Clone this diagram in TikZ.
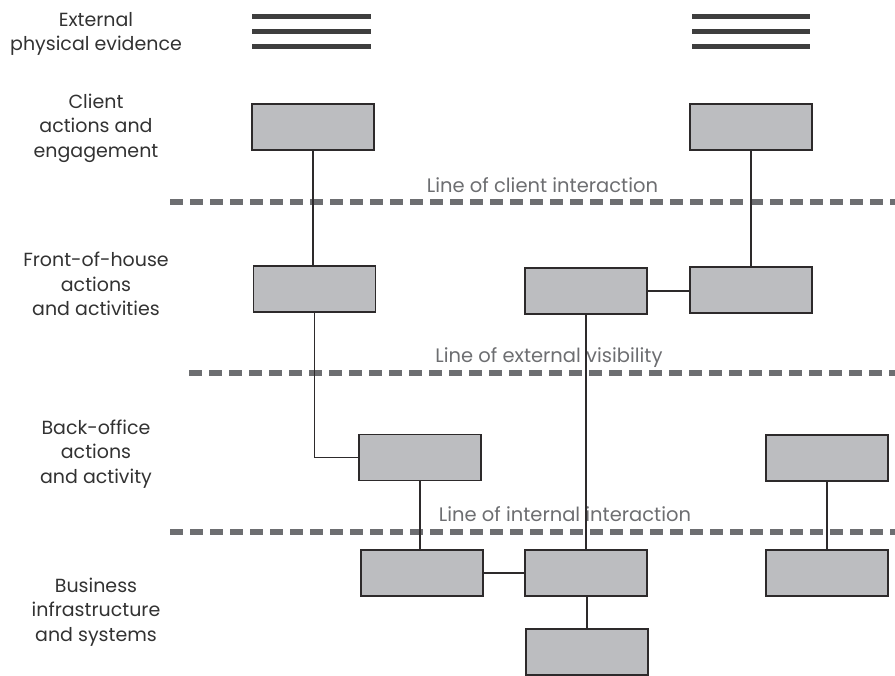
\documentclass[tikz,border=0pt]{standalone}
\usepackage{fontspec}
\setmainfont{Poppins}
\definecolor{boxfill}{RGB}{188,189,192}
\definecolor{boxline}{RGB}{45,42,43}
\definecolor{dashcol}{RGB}{109,110,113}
\definecolor{evcol}{RGB}{62,62,62}
\definecolor{labcol}{RGB}{50,50,50}
\begin{document}
\begin{tikzpicture}[x=1pt,y=-1pt,
  stagebox/.style={draw=boxline,fill=boxfill,line width=1.5pt,minimum width=122pt,minimum height=46pt,inner sep=0pt},
  conn/.style={draw=boxline,line width=1.3pt},
  evline/.style={draw=evcol,line width=5pt},
  sepline/.style={draw=dashcol,line width=6pt,dash pattern=on 13pt off 7pt},
  rowlabel/.style={align=center,text=labcol,font=\fontsize{19}{24.5}\selectfont,inner sep=0pt},
  linelabel/.style={text=dashcol,font=\fontsize{19.5}{20}\selectfont,inner sep=0pt,anchor=base}]
\useasboundingbox (0,0) rectangle (895,676);
% row labels
\node[rowlabel] (lev) at (96,34) {External\\physical evidence};
\node[rowlabel] (lcl) at (96,128) {Client\\actions and\\engagement};
\node[rowlabel] (lfr) at (96,284) {Front-of-house\\actions\\and activities};
\node[rowlabel] (lbk) at (96,454) {Back-office\\actions\\and activity};
\node[rowlabel] (lbu) at (96,612) {Business\\infrastructure\\and systems};
% evidence lines
\foreach \yy in {16.5,31.5,46.5} {
  \draw[evline] (252,\yy) -- (371,\yy);
  \draw[evline] (692,\yy) -- (810,\yy);
}
% separator lines
\draw[sepline] (170,202) -- (895,202);
\draw[sepline] (189,373) -- (895,373);
\draw[sepline] (170,532) -- (895,532);
\node[linelabel] (t1) at (542.5,193) {Line of client interaction};
\node[linelabel] (t2) at (549,363) {Line of external visibility};
\node[linelabel] (t3) at (565,521) {Line of internal interaction};
% boxes
\node[stagebox] (c1) at (313,127) {};
\node[stagebox] (c2) at (751,127) {};
\node[stagebox] (f1) at (314.5,289) {};
\node[stagebox] (f2) at (586,291) {};
\node[stagebox] (f3) at (751,290) {};
\node[stagebox] (b1) at (420,457.5) {};
\node[stagebox] (b2) at (827,458) {};
\node[stagebox] (i1) at (422,573) {};
\node[stagebox] (i2) at (586,573) {};
\node[stagebox] (i3) at (587,652) {};
\node[stagebox] (i4) at (827,573) {};
% connectors
\draw[conn] (c1.south) -- (c1.south |- f1.north);
\draw[conn] (f1.south) |- (b1.west);
\draw[conn] (b1.south) -- (b1.south |- i1.north);
\draw[conn] (c2.south) -- (c2.south |- f3.north);
\draw[conn] (f2.east) -- (f2.east -| f3.west);
\draw[conn] (f2.south) -- (f2.south |- i2.north);
\draw[conn] (i1.east) -- (i2.west);
\draw[conn] (i2.south -| i3.north) -- (i3.north);
\draw[conn] (b2.south) -- (b2.south |- i4.north);
\end{tikzpicture}
\end{document}
